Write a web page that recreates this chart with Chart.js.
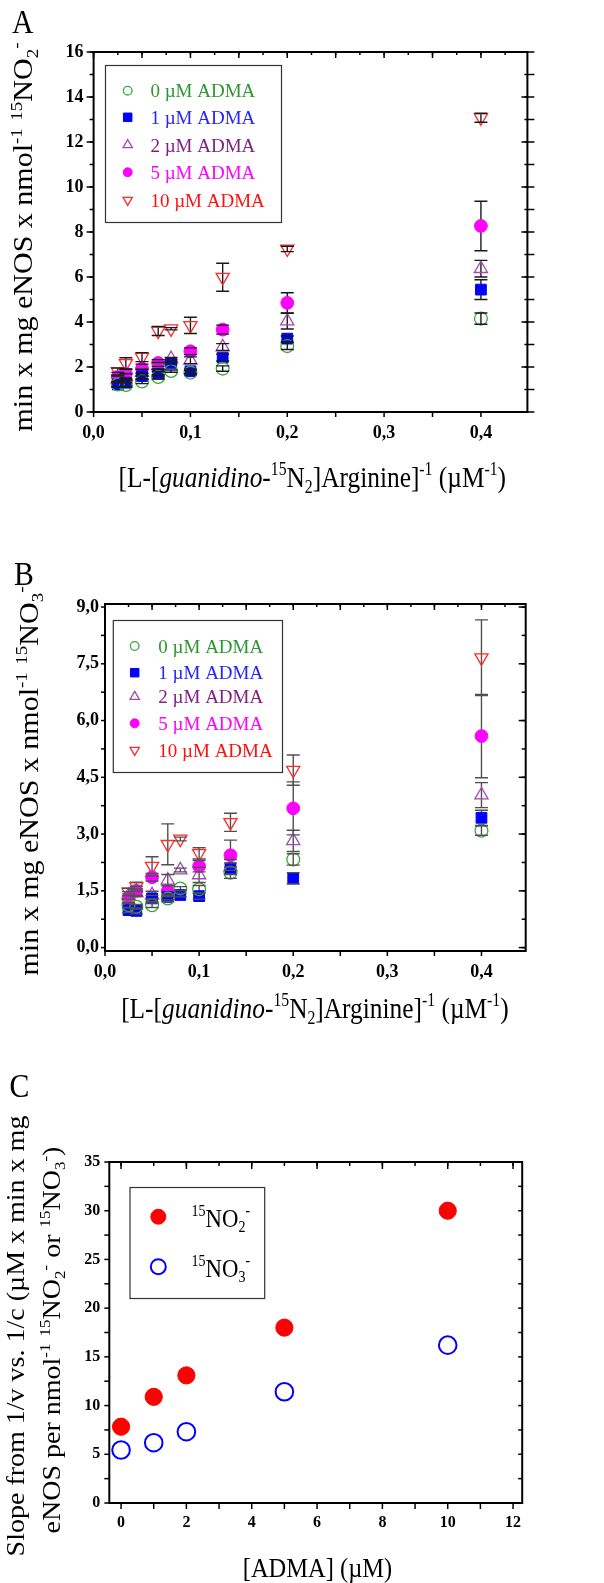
<!DOCTYPE html>
<html>
<head>
<meta charset="utf-8">
<script src="https://cdn.jsdelivr.net/npm/chart.js@4.4.1/dist/chart.umd.min.js"></script>
<style>
    html, body { margin: 0; padding: 0; background: #fff; overflow: hidden; }
    #wrap { position: relative; width: 604px; height: 1583px; overflow: hidden; }
    canvas { position: absolute; left: 0; }
</style>
</head>
<body>
<div id="wrap">
    <canvas id="graph_a" width="604" height="540" style="top:0px"></canvas>
    <canvas id="graph_b" width="604" height="500" style="top:540px"></canvas>
    <canvas id="graph_c" width="604" height="543" style="top:1040px"></canvas>
</div>
<script>
// ############################## DATOS ############################### //
const arginina = [0.025, 0.0333, 0.05, 0.0667, 0.08, 0.1, 0.1333, 0.2, 0.4];

// A: 15NO2-
const no2_0  = [1.22, 1.20, 1.36, 1.56, 1.82, 1.75, 1.93, 2.93, 4.15];
const no2_1  = [1.22, 1.30, 1.59, 1.70, 2.18, 1.81, 2.42, 3.26, 5.44];
const no2_2  = [1.45, 1.55, 1.75, 2.05, 2.37, 2.30, 2.89, 4.04, 6.37];
const no2_5  = [1.56, 1.70, 1.93, 2.18, null, 2.70, 3.66, 4.85, 8.27];
const no2_10 = [1.80, 2.16, 2.44, 3.60, 3.70, 3.85, 5.99, 7.25, 13.08];
const err2_0  = [0.10, 0.10, 0.10, 0.10, 0.05, 0.10, 0.12, 0.15, 0.25];
const err2_1  = [0.12, 0.15, 0.12, 0.10, 0.05, 0.10, 0.15, 0.12, 0.44];
const err2_2  = [0.15, 0.15, 0.15, 0.15, 0.05, 0.15, 0.15, 0.35, 0.37];
const err2_5  = [0.20, 0.20, 0.20, 0.15, null, 0.15, 0.20, 0.45, 1.10];
const err2_10 = [0.15, 0.25, 0.20, 0.20, 0.05, 0.36, 0.62, 0.12, 0.20];

// B: 15NO3-
const no3_0  = [1.12, 1.08, 1.12, 1.30, 1.56, 1.54, 1.98, 2.33, 3.09];
const no3_1  = [0.99, 0.97, 1.30, 1.34, 1.39, 1.36, 2.09, 1.83, 3.43];
const no3_2  = [1.38, 1.45, 1.39, 1.78, 2.05, 1.92, 2.13, 2.82, 4.03];
const no3_5  = [1.30, 1.50, 1.86, 1.50, null, 2.15, 2.44, 3.68, 5.59];
const no3_10 = [1.47, 1.61, 2.15, 2.73, 2.87, 2.49, 3.31, 4.69, 7.66];
const err3_0  = [0.06, 0.06, 0.06, 0.08, 0.05, 0.10, 0.15, 0.15, 0.12];
const err3_1  = [0.06, 0.08, 0.08, 0.08, 0.05, 0.08, 0.15, 0.15, 0.20];
const err3_2  = [0.10, 0.10, 0.10, 0.15, 0.05, 0.20, 0.20, 0.28, 0.33];
const err3_5  = [0.12, 0.12, 0.10, 0.15, null, 0.15, 0.40, 0.70, 1.10];
const err3_10 = [0.10, 0.12, 0.25, 0.54, 0.05, 0.15, 0.24, 0.40, 1.00];

// C: pendientes
const adma = [0, 1, 2, 5, 10];
const slope_no2 = [7.83, 10.9, 13.1, 18.0, 30.0];
const slope_no3 = [5.44, 6.19, 7.32, 11.42, 16.2];

// ticks
const ticksX_AB = [0, 0.1, 0.2, 0.3, 0.4];
const ticksY_A = [0, 2, 4, 6, 8, 10, 12, 14, 16];
const ticksY_B = [0, 1.5, 3, 4.5, 6, 7.5, 9];
const ticksX_C = [0, 2, 4, 6, 8, 10, 12];
const ticksY_C = [0, 5, 10, 15, 20, 25, 30, 35];

const etiquetas = ['0 µM ADMA', '1 µM ADMA', '2 µM ADMA', '5 µM ADMA', '10 µM ADMA'];
// ###################################################################### //

const FAM = '"Liberation Serif", "Times New Roman", serif';
const SX = 0.875;   // los títulos del original están algo estrechados

const estilos = [
    {color: '#38a838', texto: '#2e962e', punto: 'circle',   rot: 0,   r: 6.4, relleno: false, rl: 4.3},
    {color: '#0000ff', texto: '#2424ff', punto: 'rect',     rot: 0,   r: 7.6, relleno: true,  rl: 6.0},
    {color: '#a448b4', texto: '#802080', punto: 'triangle', rot: 0,   r: 7.6, relleno: false, rl: 5.4},
    {color: '#ff00ff', texto: '#ff00ff', punto: 'circle',   rot: 0,   r: 6.4, relleno: true,  rl: 4.5},
    {color: '#ff2a2a', texto: '#ff1010', punto: 'triangle', rot: 180, r: 7.6, relleno: false, rl: 5.4}
];

function series(xs, listas, errores) {
    return listas.map(function(ys, k) {
        const e = estilos[k];
        return {
            label: etiquetas[k],
            data: xs.map((x, i) => ({x: x, y: ys[i]})),
            errors: errores[k],
            pointStyle: e.punto,
            rotation: e.rot,
            radius: e.r,
            pointHoverRadius: e.r,
            backgroundColor: e.relleno ? e.color : 'rgba(0,0,0,0)',
            borderColor: e.color,
            borderWidth: e.relleno ? 1 : 1.3,
            showLine: false
        };
    });
}

function eje(min, max, valores, formato, size, pad, tam, horizontal) {
    return {
        type: 'linear',
        min: min,
        max: max,
        grid: {display: false, drawTicks: false},
        border: {display: false},
        ticks: {
            color: '#000',
            padding: pad,
            maxRotation: 0,
            autoSkip: false,
            font: {family: FAM, size: size, weight: 'bold'},
            callback: function(value) { return formato(value); }
        },
        afterBuildTicks: function(scale) { scale.ticks = valores.map(v => ({value: v})); },
        afterFit: function(scale) { if (horizontal) scale.height = tam; else scale.width = tam; }
    };
}
const coma1 = v => v.toFixed(1).replace('.', ',');
const entero = v => String(Math.round(v));

// texto con super/subindices
function fuente(m, size) {
    const s = (m === 'sup' || m === 'sub') ? Math.round(size * 0.62) : size;
    return (m === 'i' ? 'italic ' : '') + s + 'px ' + FAM;
}
function anchoRico(ctx, partes, size) {
    let w = 0;
    partes.forEach(p => { ctx.font = fuente(p[1], size); w += ctx.measureText(p[0]).width; });
    return w;
}
function textoRico(ctx, partes, x, y, size) {
    let cx = x;
    partes.forEach(function(p) {
        ctx.font = fuente(p[1], size);
        let dy = 0;
        if (p[1] === 'sup') dy = -size * 0.40;
        if (p[1] === 'sub') dy = size * 0.22;
        ctx.fillText(p[0], cx, y + dy);
        cx += ctx.measureText(p[0]).width;
    });
}

function marcador(ctx, estilo, rot, r, x, y, relleno, borde, lw) {
    ctx.save();
    ctx.beginPath();
    if (estilo === 'circle') {
        ctx.arc(x, y, r, 0, 2 * Math.PI);
    } else if (estilo === 'rect') {
        const s = r * Math.SQRT1_2;
        ctx.rect(x - s, y - s, 2 * s, 2 * s);
    } else {
        let a = rot * Math.PI / 180;
        ctx.moveTo(x + Math.sin(a) * r, y - Math.cos(a) * r);
        a += 2 * Math.PI / 3;
        ctx.lineTo(x + Math.sin(a) * r, y - Math.cos(a) * r);
        a += 2 * Math.PI / 3;
        ctx.lineTo(x + Math.sin(a) * r, y - Math.cos(a) * r);
        ctx.closePath();
    }
    ctx.fillStyle = relleno;
    ctx.fill();
    ctx.strokeStyle = borde;
    ctx.lineWidth = lw;
    ctx.stroke();
    ctx.restore();
}

// ---------- plugins ----------
// marcas: [paso, largo]; largo negativo = hacia fuera en lados top/right
function marco(spec) {
    return {
        id: 'marco',
        afterDraw: function(chart) {
            const ctx = chart.ctx, a = chart.chartArea, x = chart.scales.x, y = chart.scales.y;
            ctx.save();
            ctx.strokeStyle = '#000';
            ctx.lineWidth = 1.5;
            const tramo = function(scale, t, lado) {
                const paso = t[0], largo = t[1];
                for (let k = Math.ceil(scale.min / paso - 1e-6); k * paso <= scale.max + 1e-9; k++) {
                    const p = scale.getPixelForValue(k * paso);
                    ctx.beginPath();
                    if (lado === 'bottom') { ctx.moveTo(p, a.bottom); ctx.lineTo(p, a.bottom + largo); }
                    if (lado === 'top')    { ctx.moveTo(p, a.top);    ctx.lineTo(p, a.top + largo); }
                    if (lado === 'left')   { ctx.moveTo(a.left, p);   ctx.lineTo(a.left - largo, p); }
                    if (lado === 'right')  { ctx.moveTo(a.right, p);  ctx.lineTo(a.right - largo, p); }
                    ctx.stroke();
                }
            };
            spec.bottom.forEach(t => tramo(x, t, 'bottom'));
            spec.top.forEach(t => tramo(x, t, 'top'));
            spec.left.forEach(t => tramo(y, t, 'left'));
            spec.right.forEach(t => tramo(y, t, 'right'));
            ctx.lineWidth = 2;
            ctx.strokeRect(a.left, a.top, a.right - a.left, a.bottom - a.top);
            ctx.restore();
        }
    };
}

function barrasError(color) {
    const dibuja = function(chart, tapas) {
        const ctx = chart.ctx, x = chart.scales.x, y = chart.scales.y;
        ctx.save();
        ctx.strokeStyle = color;
        ctx.lineWidth = 1.4;
        chart.data.datasets.forEach(function(ds) {
            if (!ds.errors) return;
            ds.data.forEach(function(p, i) {
                const e = ds.errors[i];
                if (e == null || p.y == null) return;
                const px = x.getPixelForValue(p.x);
                const arriba = y.getPixelForValue(p.y + e), abajo = y.getPixelForValue(p.y - e);
                ctx.beginPath();
                if (!tapas) {
                    ctx.moveTo(px, arriba); ctx.lineTo(px, abajo);
                } else {
                    ctx.moveTo(px - 6.5, arriba); ctx.lineTo(px + 6.5, arriba);
                    ctx.moveTo(px - 6.5, abajo); ctx.lineTo(px + 6.5, abajo);
                }
                ctx.stroke();
            });
        });
        ctx.restore();
    };
    return {
        id: 'barrasError',
        beforeDatasetsDraw: chart => dibuja(chart, false),
        afterDatasetsDraw: chart => dibuja(chart, true)
    };
}

function leyenda(cfg) {
    return {
        id: 'leyenda',
        afterDraw: function(chart) {
            const ctx = chart.ctx, b = cfg.box;
            ctx.save();
            ctx.strokeStyle = '#333';
            ctx.lineWidth = 1.2;
            ctx.strokeRect(b[0] + 0.5, b[1] + 0.5, b[2] - b[0], b[3] - b[1]);
            ctx.textBaseline = 'alphabetic';
            ctx.textAlign = 'left';
            cfg.filas.forEach(function(yy, i) {
                const ds = chart.data.datasets[i];
                marcador(ctx, ds.pointStyle, ds.rotation || 0, cfg.radios[i], cfg.mx, yy,
                    ds.backgroundColor, ds.borderColor, ds.borderWidth);
                ctx.save();
                ctx.fillStyle = cfg.colores[i];
                ctx.translate(cfg.tx, yy + cfg.baja);
                ctx.scale(cfg.sx || 1, 1);
                textoRico(ctx, cfg.textos[i], 0, 0, cfg.size);
                ctx.restore();
            });
            ctx.restore();
        }
    };
}

function textos(items) {
    return {
        id: 'textos',
        afterDraw: function(chart) {
            const ctx = chart.ctx;
            items.forEach(function(it) {
                ctx.save();
                ctx.fillStyle = '#000';
                ctx.textBaseline = 'alphabetic';
                ctx.textAlign = 'left';
                ctx.translate(it.x, it.y);
                ctx.scale(SX, 1);
                if (it.rot) ctx.rotate(it.rot * Math.PI / 180);
                const w = anchoRico(ctx, it.partes, it.size);
                textoRico(ctx, it.partes, it.centro ? -w / 2 : 0, 0, it.size);
                ctx.restore();
            });
        }
    };
}

const tituloX = [['[L-[', ''], ['guanidino-', 'i'], ['15', 'sup'], ['N', ''], ['2', 'sub'],
                 [']Arginine]', ''], ['-1', 'sup'], [' (µM', ''], ['-1', 'sup'], [')', '']];
const tituloY = n => [['min x mg eNOS x nmol', ''], ['-1', 'sup'], [' ', ''], ['15', 'sup'],
                      ['NO', ''], [n, 'sub'], ['-', 'sup']];
const opcionesBase = {
    responsive: false,
    animation: false,
    devicePixelRatio: 1,
    events: [],
    plugins: {legend: {display: false}, tooltip: {enabled: false}}
};

// ############################## GRÁFICA A ############################### //
(function() {
    const config = {
        type: 'scatter',
        data: {datasets: series(arginina, [no2_0, no2_1, no2_2, no2_5, no2_10],
                                [err2_0, err2_1, err2_2, err2_5, err2_10])},
        options: Object.assign({}, opcionesBase, {
            layout: {padding: {top: 52, right: 76.6, left: 0, bottom: 88}},
            scales: {
                x: eje(0, 0.448, ticksX_AB, coma1, 18, 11, 40, true),
                y: eje(0, 16, ticksY_A, entero, 18, 10, 93.6, false)
            }
        }),
        plugins: [
            barrasError('#1a1a1a'),
            marco({bottom: [[0.05, 5]], top: [[0.025, 3], [0.05, 6]], left: [[1, 4], [2, 7]],
                   right: [[1, 3], [2, 6], [1, -7]]}),
            leyenda({box: [105, 65, 281, 222], mx: 127.7, tx: 150.4, size: 19, baja: 6.5,
                     filas: [90.7, 117.3, 145, 172.3, 200], radios: estilos.map(e => e.rl),
                     colores: estilos.map(e => e.texto), textos: etiquetas.map(t => [[t, '']])}),
            textos([
                {x: 12, y: 33, size: 34, partes: [['A', '']]},
                {x: 32.4, y: 237, rot: -90, centro: true, size: 30, partes: tituloY('2')},
                {x: 312.3, y: 487, centro: true, size: 29, partes: tituloX}
            ])
        ]
    };
    new Chart(document.getElementById('graph_a'), config);
})();

// ############################## GRÁFICA B ############################### //
(function() {
    const config = {
        type: 'scatter',
        data: {datasets: series(arginina, [no3_0, no3_1, no3_2, no3_5, no3_10],
                                [err3_0, err3_1, err3_2, err3_5, err3_10])},
        options: Object.assign({}, opcionesBase, {
            layout: {padding: {top: 64, right: 78.3, left: 0, bottom: 49}},
            scales: {
                x: eje(0, 0.447, ticksX_AB, coma1, 18, 11, 40, true),
                y: eje(-0.09, 9.08, ticksY_B, coma1, 18, 6, 105, false)
            }
        }),
        plugins: [
            barrasError('#505050'),
            marco({bottom: [[0.05, 5]], top: [[0.025, 3], [0.05, 6]], left: [[0.75, 4]], right: [[0.75, 4], [1.5, 7]]}),
            leyenda({box: [112.8, 80, 282, 232], mx: 134.7, tx: 158.3, size: 19, baja: 6.5,
                     filas: [106, 132.7, 156.7, 183.3, 210], radios: estilos.map(e => e.rl),
                     colores: estilos.map(e => e.texto), textos: etiquetas.map(t => [[t, '']])}),
            textos([
                {x: 14, y: 45, size: 34, partes: [['B', '']]},
                {x: 37.6, y: 241, rot: -90, centro: true, size: 30, partes: tituloY('3')},
                {x: 314.9, y: 478, centro: true, size: 29, partes: tituloX}
            ])
        ]
    };
    new Chart(document.getElementById('graph_b'), config);
})();

// ############################## GRÁFICA C ############################### //
(function() {
    const data_c = {
        datasets: [{
            label: '15NO2-',
            data: adma.map((x, i) => ({x: x, y: slope_no2[i]})),
            pointStyle: 'circle',
            radius: 8.6,
            backgroundColor: '#ff0000',
            borderColor: '#ff0000',
            borderWidth: 1
        }, {
            label: '15NO3-',
            data: adma.map((x, i) => ({x: x, y: slope_no3[i]})),
            pointStyle: 'circle',
            radius: 8.8,
            backgroundColor: 'rgba(0,0,0,0)',
            borderColor: '#0000ff',
            borderWidth: 2
        }]
    };
    const config = {
        type: 'scatter',
        data: data_c,
        options: Object.assign({}, opcionesBase, {
            layout: {padding: {top: 122, right: 81.8, left: 0, bottom: 40}},
            scales: {
                x: eje(-0.36, 12.28, ticksX_C, entero, 16, 10, 40, true),
                y: eje(0, 35, ticksY_C, entero, 16, 9, 109.3, false)
            }
        }),
        plugins: [
            marco({bottom: [[1, 6]], top: [[1, 4], [2, 7]], left: [[2.5, 5]], right: [[2.5, 4]]}),
            leyenda({box: [129.5, 147, 264.2, 258], mx: 158.3, tx: 191.6, size: 26, baja: 10, sx: SX,
                     filas: [176.7, 226.7], radios: [7.5, 7.5], colores: ['#000', '#000'],
                     textos: [[['15', 'sup'], ['NO', ''], ['2', 'sub'], ['-', 'sup']],
                              [['15', 'sup'], ['NO', ''], ['3', 'sub'], ['-', 'sup']]]}),
            textos([
                {x: 9.6, y: 57, size: 34, partes: [['C', '']]},
                {x: 23.6, y: 296, rot: -90, centro: true, size: 28,
                 partes: [['Slope from 1/v vs. 1/c (µM x min x mg', '']]},
                {x: 59.5, y: 300, rot: -90, centro: true, size: 28,
                 partes: [['eNOS per nmol', ''], ['-1', 'sup'], [' ', ''], ['15', 'sup'], ['NO', ''], ['2', 'sub'], ['-', 'sup'],
                          [' or ', ''], ['15', 'sup'], ['NO', ''], ['3', 'sub'], ['-', 'sup'], [')', '']]},
                {x: 317.5, y: 537, centro: true, size: 28, partes: [['[ADMA] (µM)', '']]}
            ])
        ]
    };
    new Chart(document.getElementById('graph_c'), config);
})();
</script>
</body>
</html>
